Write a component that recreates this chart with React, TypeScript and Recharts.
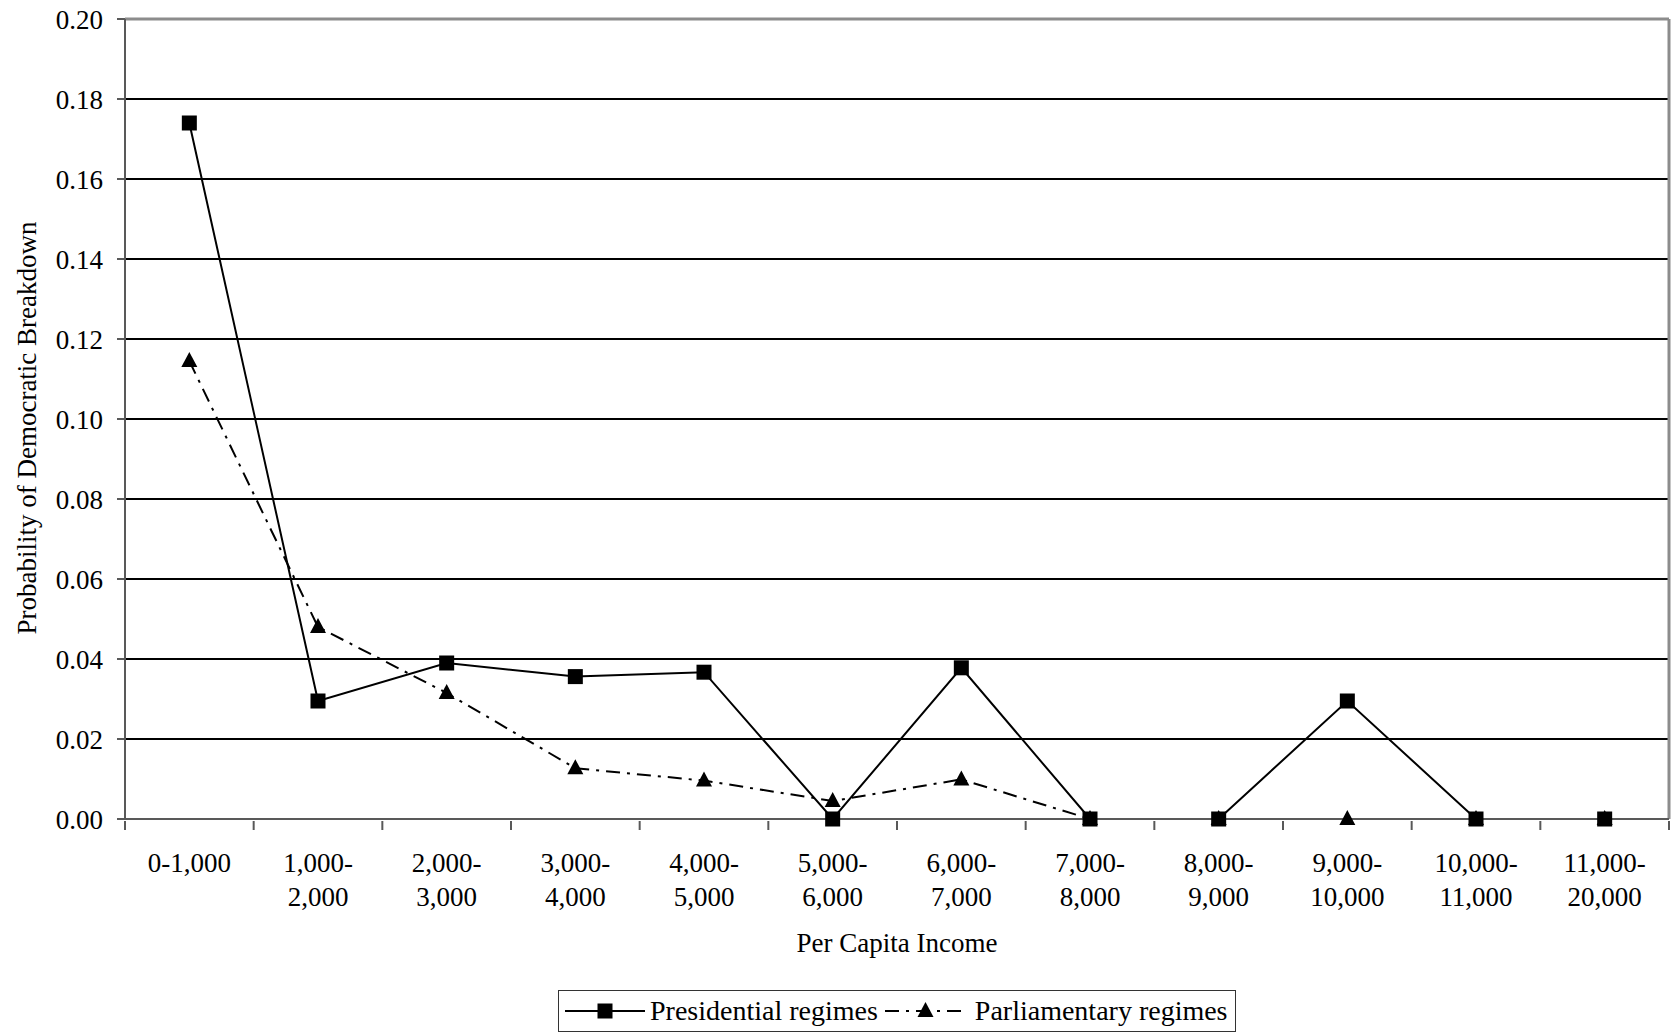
import React from "react";
import { LineChart, Line, XAxis, YAxis, CartesianGrid, ReferenceLine } from "recharts";

const categories = [
  "0-1,000",
  "1,000-2,000",
  "2,000-3,000",
  "3,000-4,000",
  "4,000-5,000",
  "5,000-6,000",
  "6,000-7,000",
  "7,000-8,000",
  "8,000-9,000",
  "9,000-10,000",
  "10,000-11,000",
  "11,000-20,000",
];
const presidential = [0.174, 0.0295, 0.039, 0.0356, 0.0367, 0, 0.0378, 0, 0, 0.0295, 0, 0];
const parliamentary = [0.1145, 0.048, 0.0315, 0.0127, 0.0096, 0.0045, 0.0099, 0, 0, 0, 0, 0];
const yTicks = [0, 0.02, 0.04, 0.06, 0.08, 0.1, 0.12, 0.14, 0.16, 0.18, 0.2];

const WIDTH = 1671;
const HEIGHT = 1034;
const FONT = '"Liberation Serif", "Times New Roman", serif';
const FS = 27;
const AXIS = "#595959";
const BORDER = "#8c8c8c";
const DASH_DOT = "14 7 3 7";

const data = categories.map((name, i) => ({
  x: i + 0.5,
  name,
  presidential: presidential[i],
  parliamentary: parliamentary[i],
}));

// integer ticks mark the category boundaries, half ticks carry the labels
const xTicks: number[] = [];
for (let i = 0; i <= categories.length; i++) {
  xTicks.push(i);
  if (i < categories.length) xTicks.push(i + 0.5);
}

function splitLabel(label: string): string[] {
  if (label.length <= 7) return [label];
  const cut = label.indexOf("-") + 1;
  return [label.slice(0, cut), label.slice(cut)];
}

function XTick(props: any) {
  const { x, y, payload } = props;
  const v = payload.value as number;
  if (Number.isInteger(v)) {
    return <line x1={x} x2={x} y1={y} y2={y + 9} stroke={AXIS} strokeWidth={2} />;
  }
  const lines = splitLabel(categories[Math.floor(v)]);
  return (
    <text x={x} y={y + 51} textAnchor="middle" fontSize={FS} fill="#000">
      {lines.map((l, i) => (
        <tspan key={i} x={x} dy={i === 0 ? 0 : 34}>
          {l}
        </tspan>
      ))}
    </text>
  );
}

function XTitle(props: any) {
  const vb = props.viewBox || { x: 125, y: 819, width: 1544 };
  return (
    <text x={vb.x + vb.width / 2} y={vb.y + 133} textAnchor="middle" fontSize={FS} fill="#000">
      Per Capita Income
    </text>
  );
}

function YTitle(props: any) {
  const vb = props.viewBox || { x: 0, y: 19, height: 800 };
  const cy = vb.y + vb.height / 2 + 9;
  return (
    <text
      x={27}
      y={cy}
      transform={`rotate(-90, 27, ${cy})`}
      textAnchor="middle"
      dominantBaseline="central"
      fontSize={FS}
      fill="#000"
    >
      Probability of Democratic Breakdown
    </text>
  );
}

function SquareDot(props: any) {
  const { cx, cy } = props;
  if (cx == null || cy == null) return null;
  return <rect x={cx - 7.5} y={cy - 7.5} width={15} height={15} fill="#000" />;
}

function TriangleDot(props: any) {
  const { cx, cy } = props;
  if (cx == null || cy == null) return null;
  return <polygon points={`${cx},${cy - 9} ${cx - 8},${cy + 6} ${cx + 8},${cy + 6}`} fill="#000" />;
}

function LegendBox() {
  return (
    <div
      style={{
        position: "absolute",
        left: 558,
        top: 990,
        width: 678,
        height: 42,
        boxSizing: "border-box",
        border: "1.5px solid #333",
        background: "#fff",
        display: "flex",
        alignItems: "center",
        fontSize: 28,
        lineHeight: "40px",
        paddingLeft: 6,
        whiteSpace: "nowrap",
      }}
    >
      <svg width={80} height={20}>
        <line x1={0} x2={80} y1={10} y2={10} stroke="#000" strokeWidth={2} />
        <rect x={32.5} y={2.5} width={15} height={15} fill="#000" />
      </svg>
      <span style={{ marginLeft: 5 }}>Presidential regimes</span>
      <svg width={81} height={20} style={{ marginLeft: 7 }}>
        <line x1={0} x2={81} y1={10} y2={10} stroke="#000" strokeWidth={2} strokeDasharray={DASH_DOT} />
        <polygon points="40.5,1 32.5,16 48.5,16" fill="#000" />
      </svg>
      <span style={{ marginLeft: 9 }}>Parliamentary regimes</span>
    </div>
  );
}

export default function App() {
  return (
    <div style={{ position: "relative", width: WIDTH, height: HEIGHT, fontFamily: FONT, background: "#fff" }}>
      <style>{"body{margin:0}"}</style>
      <LineChart width={WIDTH} height={HEIGHT} data={data} margin={{ top: 19, right: 2, bottom: 0, left: 0 }}>
        <CartesianGrid vertical={false} stroke="#000" strokeWidth={2} />
        <XAxis
          type="number"
          dataKey="x"
          domain={[0, categories.length]}
          ticks={xTicks}
          interval={0}
          tickLine={false}
          tickSize={0}
          height={215}
          axisLine={{ stroke: AXIS, strokeWidth: 2 }}
          tick={<XTick />}
          label={<XTitle />}
        />
        <YAxis
          domain={[0, 0.2]}
          ticks={yTicks}
          interval={0}
          width={125}
          tickSize={8}
          tickMargin={14}
          tickFormatter={(v: number) => v.toFixed(2)}
          tick={{ fill: "#000", fontSize: FS }}
          axisLine={{ stroke: AXIS, strokeWidth: 2 }}
          tickLine={{ stroke: AXIS, strokeWidth: 2 }}
          label={<YTitle />}
        />
        <ReferenceLine y={0.2} stroke={BORDER} strokeWidth={3} />
        <ReferenceLine x={categories.length} stroke={BORDER} strokeWidth={3} />
        <Line
          type="linear"
          dataKey="parliamentary"
          stroke="#000"
          strokeWidth={2}
          strokeDasharray={DASH_DOT}
          dot={<TriangleDot />}
          activeDot={false}
          isAnimationActive={false}
        />
        <Line
          type="linear"
          dataKey="presidential"
          stroke="#000"
          strokeWidth={2}
          dot={<SquareDot />}
          activeDot={false}
          isAnimationActive={false}
        />
      </LineChart>
      <LegendBox />
    </div>
  );
}
